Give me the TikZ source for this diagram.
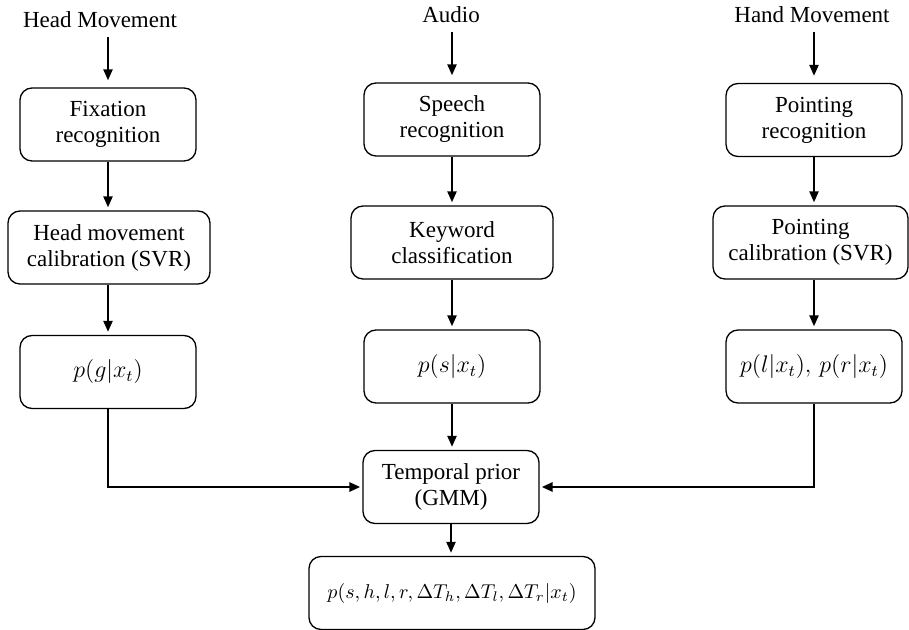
\documentclass[tikz,border=0pt]{standalone}
\usepackage{fontspec}
\setmainfont{Liberation Serif}
\usetikzlibrary{arrows.meta}
\begin{document}
\begin{tikzpicture}[x=0.5pt,y=-0.5pt,
  box/.style={draw, rounded corners=6pt, line width=0.65pt, align=center, inner sep=0pt,
              minimum height=36.5pt, font=\fontsize{11.5}{13}\selectfont},
  lbl/.style={inner sep=0pt, font=\fontsize{11.5}{13}\selectfont},
  conn/.style={line width=1.1pt, -{Triangle[length=5.5pt,width=4.5pt]}, shorten >=1.5pt},
  link/.style={line width=1.4pt, -{Triangle[length=5.5pt,width=4.5pt]}, shorten >=1pt},
]
\useasboundingbox (0,0) rectangle (909,630);

% left column
\node[lbl, anchor=base] (head) at (100,28) {Head Movement};
\node[box, minimum width=88pt] (fix) at (108,124.5) {Fixation\\recognition};
\node[box, minimum width=101pt] (hmc) at (109,247.5) {Head movement\\calibration (SVR)};
\node[box, minimum width=88pt] (pg) at (108,372) {$p(g|x_t)$};

% middle column
\node[lbl, anchor=base] (audio) at (451,23) {Audio};
\node[box, minimum width=88pt] (speech) at (452,119.5) {Speech\\recognition};
\node[box, minimum width=101pt] (kw) at (452,242.5) {Keyword\\classification};
\node[box, minimum width=88pt] (ps) at (452,366.5) {$p(s|x_t)$};
\node[box, minimum width=88pt] (tp) at (451,487) {Temporal prior\\(GMM)};
\node[box, minimum width=143pt, font=\fontsize{10.3}{12}\selectfont] (out) at (452,593) {$p(s,h,l,r,\Delta T_h,\Delta T_l,\Delta T_r|x_t)$};

% right column
\node[lbl, anchor=base] (hand) at (812,23) {Hand Movement};
\node[box, minimum width=88pt] (prec) at (814,120) {Pointing\\recognition};
\node[box, minimum width=97.5pt] (pcal) at (810.5,242.5) {Pointing\\calibration (SVR)};
\node[box, minimum width=88pt] (pl) at (814,366.5) {$p(l|x_t),\,p(r|x_t)$};

% arrows
\draw[conn, shorten <=4pt, shorten >=3.5pt] (fix.north |- head.south) -- (fix.north);
\draw[conn] (fix.south) -- (fix.south |- hmc.north);
\draw[conn] (fix.south |- hmc.south) -- (pg.north);

\draw[conn, shorten <=4pt, shorten >=3.5pt] (speech.north |- audio.south) -- (speech.north);
\draw[conn] (speech.south) -- (kw.north);
\draw[conn] (kw.south) -- (ps.north);
\draw[conn] (ps.south) -- (ps.south |- tp.north);
\draw[conn] (tp.south) -- (tp.south |- out.north);

\draw[conn, shorten <=4pt, shorten >=3.5pt] (prec.north |- hand.south) -- (prec.north);
\draw[conn] (prec.south) -- (prec.south |- pcal.north);
\draw[conn] (prec.south |- pcal.south) -- (pl.north);

\draw[link] (pg.south) |- (tp.west);
\draw[link] (pl.south) |- (tp.east);
\end{tikzpicture}
\end{document}
